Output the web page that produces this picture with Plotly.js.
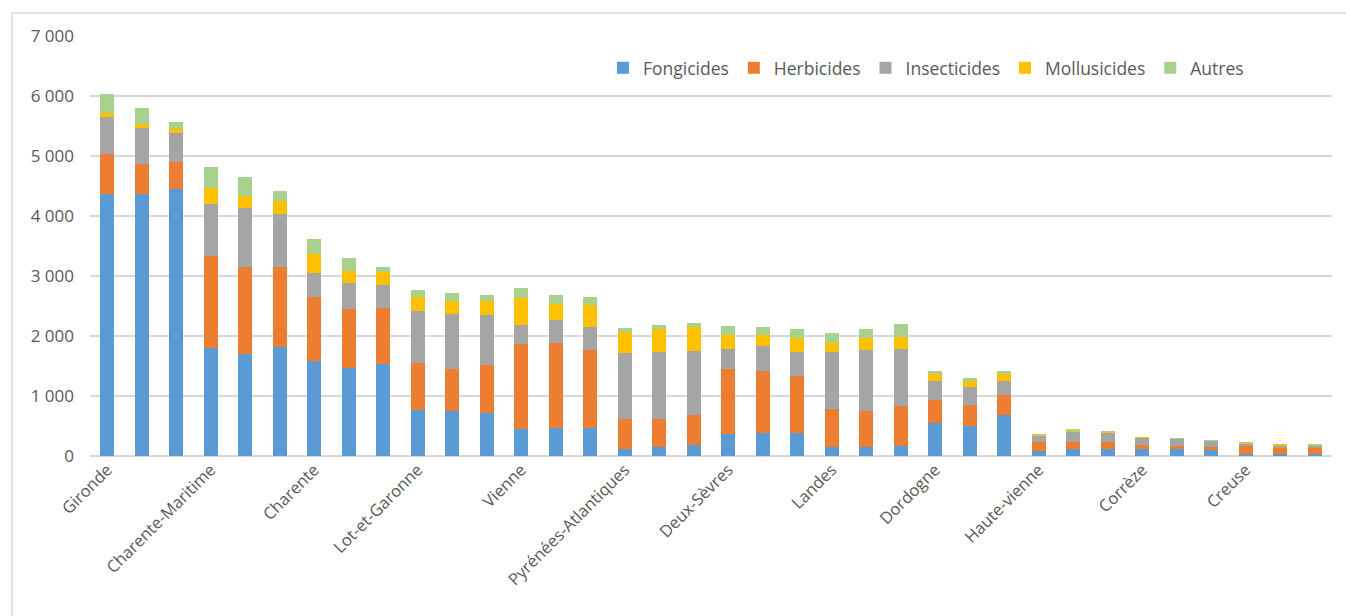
<!DOCTYPE html>
<html>
<head>
<meta charset="utf-8">
<script src="https://cdn.plot.ly/plotly-3.0.1.min.js"></script>
<style>
html,body{margin:0;padding:0;background:#fff;}
#chart{width:1346px;height:616px;}
</style>
</head>
<body>
<div id="chart"></div>
<script>
// Department labels (shown every third bar)
const departements = ["Gironde","Charente-Maritime","Charente","Lot-et-Garonne","Vienne",
  "Pyrénées-Atlantiques","Deux-Sèvres","Landes","Dordogne","Haute-vienne","Corrèze","Creuse"];

// Series values (36 bars)
const fongicides   = [4370,4370,4450,1800,1705,1815,1580,1460,1535,765,745,710,450,470,470,115,150,185,370,385,385,150,150,165,555,505,680,80,115,115,115,115,100,30,30,30];
const herbicides   = [660,495,450,1530,1445,1335,1070,990,930,780,700,800,1420,1410,1295,495,460,495,1085,1040,955,630,600,665,380,345,340,155,125,120,70,50,50,135,110,100];
const insecticides = [620,610,490,875,985,885,405,435,385,870,915,835,315,395,390,1105,1120,1070,330,410,395,955,1015,950,315,300,235,100,165,145,120,118,100,40,35,35];
const mollusicides = [65,55,60,265,205,215,310,195,210,235,220,240,450,260,360,355,390,395,235,175,240,150,205,200,110,100,105,17,20,28,5,5,5,10,25,15];
const autres       = [320,270,115,345,305,170,250,220,85,120,135,100,165,145,135,65,65,80,155,135,135,165,150,225,50,55,50,17,17,12,12,12,17,17,8,23];

const seriesNames  = ["Fongicides","Herbicides","Insecticides","Mollusicides","Autres"];
const seriesValues = [fongicides,herbicides,insecticides,mollusicides,autres];
const seriesColors = ["#5B9BD5","#ED7D31","#A5A5A5","#FFC000","#A9D18E"];

const xIdx = fongicides.map((_, i) => i);
const tickPositions = departements.map((_, i) => i * 3);

const traces = seriesNames.map((name, k) => ({
  type: "bar",
  name: name,
  x: xIdx,
  y: seriesValues[k],
  marker: {color: seriesColors[k], line: {width: 0}},
  hoverinfo: "skip"
}));

const font = {family: "Open Sans, Noto Sans, sans-serif", color: "#595959"};

const layout = {
  width: 1346, height: 616,
  margin: {l: 90, r: 14, t: 36, b: 160},
  paper_bgcolor: "#ffffff", plot_bgcolor: "#ffffff",
  barmode: "stack",
  bargap: 0.6,
  separators: ", ",
  font: Object.assign({size: 14}, font),
  showlegend: true,
  legend: {
    orientation: "h",
    x: 0.413, xanchor: "left",
    y: 0.924, yanchor: "middle",
    font: Object.assign({size: 17.5}, font),
    traceorder: "normal",
    itemwidth: 30,
    bgcolor: "rgba(0,0,0,0)"
  },
  xaxis: {
    range: [-0.5, 35.5],
    tickmode: "array",
    tickvals: tickPositions,
    ticktext: departements,
    tickangle: -45,
    tickfont: Object.assign({size: 16.5}, font),
    showgrid: false, zeroline: false, showline: false,
    ticks: "", ticklen: 0
  },
  yaxis: {
    range: [0, 7000],
    tickvals: [0,1000,2000,3000,4000,5000,6000,7000],
    tickformat: ",d",
    tickfont: Object.assign({size: 17}, font),
    showgrid: true, gridcolor: "#D9D9D9", gridwidth: 1.5,
    zeroline: true, zerolinecolor: "#D9D9D9", zerolinewidth: 1.5,
    showline: false, ticks: "", ticklabelstandoff: 15
  },
  shapes: [{
    type: "rect", xref: "paper", yref: "paper",
    x0: (12 - 90) / 1242, x1: 1.5,
    y0: -1.5, y1: (456 - 13) / 420,
    line: {color: "#D9D9D9", width: 1.5},
    fillcolor: "rgba(0,0,0,0)",
    layer: "below"
  }]
};

Plotly.newPlot("chart", traces, layout, {displayModeBar: false, staticPlot: true});
</script>
</body>
</html>
